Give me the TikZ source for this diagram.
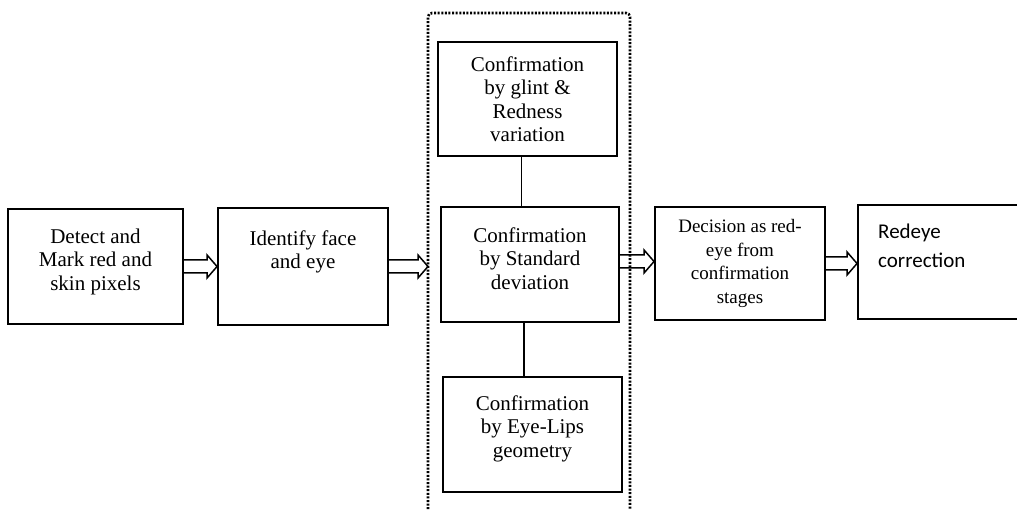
\documentclass[tikz,border=0pt]{standalone}
\usepackage{fontspec}
\setmainfont{Liberation Serif}
\newfontfamily\calfont{Carlito}

\tikzset{
	stagebox/.style={draw, line width=1.9pt, inner sep=0pt, align=center, font=\fontsize{21}{23.5}\selectfont},
	txt/.style={align=center, inner sep=0pt, font=\fontsize{21}{23.5}\selectfont},
	flow/.style={line width=1.5pt, line join=miter},
	link/.style={line width=1.9pt},
	groupline/.style={line width=2.6pt, dash pattern=on 2pt off 1.6pt}
}

% hollow block arrow between two points at the same height
\newcommand\flowarrow[2]{%
	\draw[flow] ([yshift=6.5pt]#1) -- ([xshift=-10pt,yshift=6.5pt]#2) -- ([xshift=-10pt,yshift=11.5pt]#2)
		-- (#2) -- ([xshift=-10pt,yshift=-11.5pt]#2) -- ([xshift=-10pt,yshift=-6.5pt]#2) -- ([yshift=-6.5pt]#1);}

\begin{document}
\begin{tikzpicture}[x=1pt, y=-1pt]
			\useasboundingbox (0,0) rectangle (1017,510);

			% stages
			\node[stagebox, minimum width=175pt, minimum height=115pt] (detect) at (95.5,266.5) {};
			\node[stagebox, minimum width=170pt, minimum height=117pt] (face) at (303,266.5) {};
			\node[stagebox, minimum width=179pt, minimum height=114pt] (glint) at (527.5,99) {Confirmation\\by glint \&\\Redness\\variation};
			\node[stagebox, minimum width=178pt, minimum height=115pt] (stdev) at (530,264.5) {};
			\node[stagebox, minimum width=179pt, minimum height=115pt] (lips) at (532.5,434.5) {};
			\node[stagebox, minimum width=170pt, minimum height=113pt, font=\fontsize{19}{23.5}\selectfont] (decide) at (740,263.5) {Decision as red-\\eye from\\confirmation\\stages};
			\node[stagebox, minimum width=162pt, minimum height=114pt] (correct) at (939,262) {};

			\node[txt] (detecttxt) at ([yshift=5pt]detect.center) {Detect and\\Mark red and\\skin pixels};
			\node[txt, anchor=north] (facetxt) at ([yshift=-23pt]face.north) {Identify face\\and eye};
			\node[txt] (stdevtxt) at ([yshift=6pt]stdev.center) {Confirmation\\by Standard\\deviation};
			\node[txt] (lipstxt) at ([yshift=6pt]lips.center) {Confirmation\\by Eye-Lips\\geometry};
			\node[txt, align=left, anchor=north west, font=\calfont\fontsize{21}{29}\selectfont] (correcttxt) at (878,224) {Redeye\\correction};

			% confirmation group
			\draw[groupline, rounded corners=4pt] (428,520) -- (428,13) -- (630,13) -- (630,520);
			\coordinate (grpin) at (428,264);
			\coordinate (grpout) at ([yshift=3pt]stdev.east);

			\draw[link] ([xshift=-6pt]glint.south) -- ([xshift=-6pt]glint.south |- stdev.north);
			\draw[link] ([xshift=-6pt]stdev.south) -- ([xshift=-6pt]stdev.south |- lips.north);

			\flowarrow{detect.east}{face.west}
			\flowarrow{face.east}{face.east -| grpin}
			\flowarrow{grpout}{grpout -| decide.west}
			\flowarrow{decide.east}{decide.east -| correct.west}
\end{tikzpicture}
\end{document}
